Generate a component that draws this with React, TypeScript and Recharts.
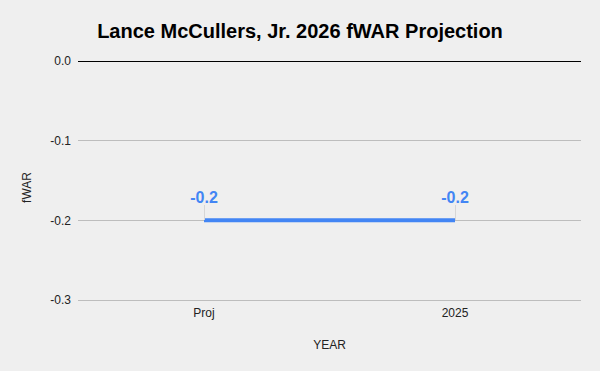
import { LineChart, Line, XAxis, YAxis, CartesianGrid, ReferenceLine, LabelList } from 'recharts';

const YEARS = ['Proj', '2025'];
const FWAR = [-0.2, -0.2];
const Y_TICKS = [0, -0.1, -0.2, -0.3];

const data = YEARS.map((year, i) => ({ year, war: FWAR[i] }));

const BLUE = '#4285f4';
const FONT = '"Liberation Sans", Arial, sans-serif';

function PointLabel(props: any) {
  const { x, y, value } = props;
  if (x == null || y == null) return null;
  return (
    <g>
      <line x1={x} x2={x} y1={y - 15} y2={y} stroke="#d6d6d6" strokeWidth={1} shapeRendering="crispEdges" />
      <text x={x} y={y - 17} textAnchor="middle" fill={BLUE} fontSize={16} fontWeight="bold" fontFamily={FONT}>
        {Number(value).toFixed(1)}
      </text>
    </g>
  );
}

export default function App() {
  return (
    <div style={{ position: 'absolute', top: 0, left: 0, width: 600, height: 371, background: '#efefef', fontFamily: FONT }}>
      <div style={{ position: 'absolute', top: 0, left: 0, width: 600, textAlign: 'center', fontSize: 20, fontWeight: 'bold', lineHeight: '20px', paddingTop: 21, color: '#000' }}>
        Lance McCullers, Jr. 2026 fWAR Projection
      </div>
      <LineChart width={600} height={371} data={data} margin={{ top: 61, right: 19, left: 0, bottom: 0 }}>
        <CartesianGrid vertical={false} stroke="#bdbdbd" shapeRendering="crispEdges" />
        <XAxis
          dataKey="year"
          axisLine={false}
          tickLine={false}
          tickSize={0}
          tickMargin={8}
          height={71}
          padding={{ left: 126, right: 126 }}
          tick={{ fontSize: 12, fill: '#222', fontFamily: FONT }}
          label={{
            content: ({ viewBox }: any) => (
              <text x={viewBox.x + viewBox.width / 2} y={viewBox.y + 49} textAnchor="middle" fontSize={12} fill="#222" fontFamily={FONT}>
                YEAR
              </text>
            ),
          }}
        />
        <YAxis
          domain={[-0.3, 0]}
          ticks={Y_TICKS}
          axisLine={false}
          tickLine={false}
          tickSize={0}
          tickMargin={7}
          width={78}
          tickFormatter={(v: number) => v.toFixed(1)}
          tick={{ fontSize: 12, fill: '#222', fontFamily: FONT }}
          label={{
            content: ({ viewBox }: any) => (
              <text
                x={31}
                y={viewBox.y + viewBox.height / 2 + 7}
                transform={`rotate(-90 31 ${viewBox.y + viewBox.height / 2 + 7})`}
                textAnchor="middle"
                fontSize={12}
                fill="#222"
                fontFamily={FONT}
              >
                fWAR
              </text>
            ),
          }}
        />
        <ReferenceLine y={0} stroke="#000" strokeWidth={1} shapeRendering="crispEdges" />
        <Line dataKey="war" stroke={BLUE} strokeWidth={4} dot={false} activeDot={false} isAnimationActive={false}>
          <LabelList dataKey="war" content={PointLabel} />
        </Line>
      </LineChart>
    </div>
  );
}
